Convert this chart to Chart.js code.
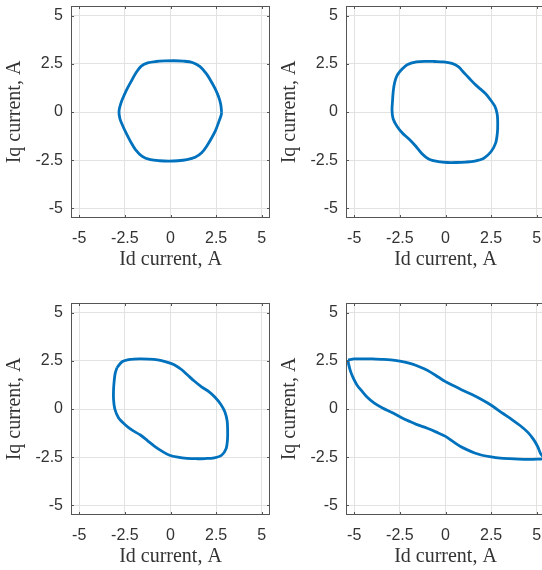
<!DOCTYPE html>
<html>
<head>
<meta charset="utf-8">
<script src="https://cdn.jsdelivr.net/npm/chart.js@4.4.1/dist/chart.umd.min.js"></script>
<style>
  html, body { margin: 0; padding: 0; background: #fff; overflow: hidden; width: 542px; height: 570px; }
  canvas { position: absolute; }
</style>
</head>
<body>
<canvas id="c1" width="275" height="285" style="left:0;top:0"></canvas>
<canvas id="c2" width="275" height="285" style="left:275px;top:0"></canvas>
<canvas id="c3" width="275" height="285" style="left:0;top:297px"></canvas>
<canvas id="c4" width="275" height="285" style="left:275px;top:297px"></canvas>
<script>
// axis ticks shared by all four plots
const tickVals = [-5, -2.5, 0, 2.5, 5];
const xLabel = 'Id current, A';
const yLabel = 'Iq current, A';

// plot 1 (top left)
const id1 = [2.8, 2.75, 2.63, 2.45, 2.22, 1.95, 1.62, 1.2, 0.7, 0.2, -0.3, -0.8, -1.25, -1.6, -1.88, -2.12, -2.35, -2.55, -2.72, -2.82, -2.77, -2.6, -2.4, -2.18, -1.92, -1.55, -1.1, -0.6, -0.1, 0.4, 0.9, 1.35, 1.72, 2.0, 2.25, 2.47, 2.65, 2.78, 2.8];
const iq1 = [0, 0.4, 0.8, 1.2, 1.6, 2.0, 2.35, 2.57, 2.64, 2.66, 2.65, 2.62, 2.55, 2.38, 2.05, 1.65, 1.25, 0.85, 0.45, 0.05, -0.35, -0.75, -1.15, -1.55, -1.95, -2.3, -2.47, -2.53, -2.55, -2.53, -2.47, -2.35, -2.1, -1.75, -1.35, -0.95, -0.5, -0.15, 0];

// plot 2 (top right)
const id2 = [-2.45, -2.1, -1.6, -1.1, -0.6, -0.1, 0.35, 0.7, 1.0, 1.3, 1.6, 1.9, 2.2, 2.45, 2.7, 2.83, 2.86, 2.84, 2.75, 2.5, 2.1, 1.6, 1.1, 0.6, 0.1, -0.4, -0.9, -1.3, -1.65, -2.0, -2.35, -2.65, -2.87, -2.93, -2.9, -2.86, -2.78, -2.65, -2.45];
const iq2 = [2.16, 2.45, 2.6, 2.63, 2.62, 2.6, 2.52, 2.35, 2.05, 1.75, 1.45, 1.2, 0.95, 0.65, 0.3, -0.1, -0.6, -1.1, -1.6, -2.05, -2.4, -2.55, -2.6, -2.62, -2.62, -2.57, -2.45, -2.15, -1.75, -1.4, -1.1, -0.75, -0.35, 0.1, 0.6, 1.1, 1.55, 1.9, 2.16];

// plot 3 (bottom left)
const id3 = [-2.93, -2.65, -2.2, -1.7, -1.2, -0.7, -0.25, 0.2, 0.6, 0.95, 1.3, 1.7, 2.1, 2.45, 2.75, 2.98, 3.1, 3.13, 3.12, 3.05, 2.8, 2.4, 1.9, 1.4, 0.9, 0.4, -0.05, -0.45, -0.85, -1.25, -1.65, -2.1, -2.5, -2.85, -3.05, -3.12, -3.12, -3.08, -3.03, -2.93];
const iq3 = [2.15, 2.45, 2.57, 2.6, 2.59, 2.55, 2.45, 2.3, 2.05, 1.75, 1.45, 1.15, 0.9, 0.6, 0.25, -0.15, -0.6, -1.1, -1.6, -2.05, -2.4, -2.53, -2.57, -2.58, -2.56, -2.5, -2.4, -2.2, -1.95, -1.65, -1.35, -1.1, -0.8, -0.45, 0, 0.5, 1.0, 1.5, 1.85, 2.15];

// plot 4 (bottom right)
const id4 = [-5.34, -5.0, -4.5, -4.0, -3.5, -3.0, -2.5, -2.0, -1.6, -1.2, -0.8, -0.4, 0, 0.45, 0.9, 1.45, 2.0, 2.55, 3.1, 3.6, 4.1, 4.5, 4.8, 5.05, 5.2, 5.38,
             5.0, 4.5, 4.0, 3.5, 3.0, 2.5, 2.0, 1.6, 1.2, 0.8, 0.4, 0, -0.5, -1.0, -1.6, -2.0, -2.4, -2.9, -3.45, -3.9, -4.3, -4.6, -4.85, -5.05, -5.2, -5.3, -5.34];
const iq4 = [2.55, 2.6, 2.6, 2.6, 2.58, 2.55, 2.48, 2.38, 2.26, 2.1, 1.9, 1.66, 1.42, 1.2, 0.99, 0.75, 0.48, 0.17, -0.2, -0.52, -0.87, -1.2, -1.55, -1.95, -2.3, -2.55,
             -2.6, -2.61, -2.6, -2.58, -2.55, -2.49, -2.4, -2.28, -2.12, -1.93, -1.68, -1.42, -1.2, -1.0, -0.8, -0.63, -0.45, -0.2, 0.05, 0.3, 0.62, 0.95, 1.25, 1.6, 1.95, 2.3, 2.55];

const axisColor = '#333';
const gridColor = '#e2e2e2';
const sans = '"Liberation Sans", Arial, sans-serif';
const serif = '"Liberation Serif", "Times New Roman", serif';

// box round the plot area with small inward ticks, like the original
const boxPlugin = {
    id: 'box',
    afterDraw(chart){
        const {ctx, chartArea: a, scales} = chart;
        ctx.save();
        ctx.strokeStyle = '#555';
        ctx.lineWidth = 1;
        ctx.strokeRect(a.left + 0.5, a.top + 0.5, a.right - a.left - 1, a.bottom - a.top - 1);
        ctx.beginPath();
        tickVals.forEach(v => {
            const x = Math.round(scales.x.getPixelForValue(v)) + 0.5;
            ctx.moveTo(x, a.bottom); ctx.lineTo(x, a.bottom - 3);
            ctx.moveTo(x, a.top); ctx.lineTo(x, a.top + 3);
            const y = Math.round(scales.y.getPixelForValue(v)) + 0.5;
            ctx.moveTo(a.left, y); ctx.lineTo(a.left + 3, y);
            ctx.moveTo(a.right, y); ctx.lineTo(a.right - 3, y);
        });
        ctx.stroke();
        ctx.restore();
    }
};

function IqPlot(id, xs, ys){
    const pts = xs.map((x, i) => ({x: x, y: ys[i]}));
    return new Chart(document.getElementById(id), {
        type: 'scatter',
        data: {
            datasets: [{
                data: pts,
                showLine: true,
                borderColor: '#0072BD',
                borderWidth: 2.8,
                pointRadius: 0,
                tension: 0.3,
                fill: false
            }]
        },
        options: {
            responsive: false,
            animation: false,
            layout: { padding: { top: 6, right: 5, left: 0, bottom: 0 } },
            plugins: { legend: { display: false }, tooltip: { enabled: false } },
            scales: {
                x: {
                    type: 'linear',
                    min: -5.45, max: 5.45,
                    afterBuildTicks: s => { s.ticks = tickVals.map(v => ({value: v})); },
                    afterFit: s => { s.height = 67; s.paddingLeft = 0; s.paddingRight = 0; },
                    grid: { color: gridColor, drawTicks: false },
                    border: { display: false },
                    ticks: {
                        padding: 11,
                        color: axisColor,
                        font: { family: sans, size: 16 },
                        maxRotation: 0,
                        callback: v => String(v)
                    },
                    title: {
                        display: true, text: xLabel, color: axisColor,
                        font: { family: serif, size: 20 },
                        padding: { top: 0, bottom: 13 }
                    }
                },
                y: {
                    type: 'linear',
                    min: -5.5, max: 5.5,
                    afterBuildTicks: s => { s.ticks = tickVals.map(v => ({value: v})); },
                    afterFit: s => { s.width = 71; s.paddingTop = 0; s.paddingBottom = 0; },
                    grid: { color: gridColor, drawTicks: false },
                    border: { display: false },
                    ticks: {
                        padding: 8,
                        color: axisColor,
                        font: { family: sans, size: 16 },
                        callback: v => String(v)
                    },
                    title: {
                        display: true, text: yLabel, color: axisColor,
                        font: { family: serif, size: 20 },
                        padding: { top: 3, bottom: 0 }
                    }
                }
            }
        },
        plugins: [boxPlugin]
    });
}

IqPlot('c1', id1, iq1);
IqPlot('c2', id2, iq2);
IqPlot('c3', id3, iq3);
IqPlot('c4', id4, iq4);
</script>
</body>
</html>
